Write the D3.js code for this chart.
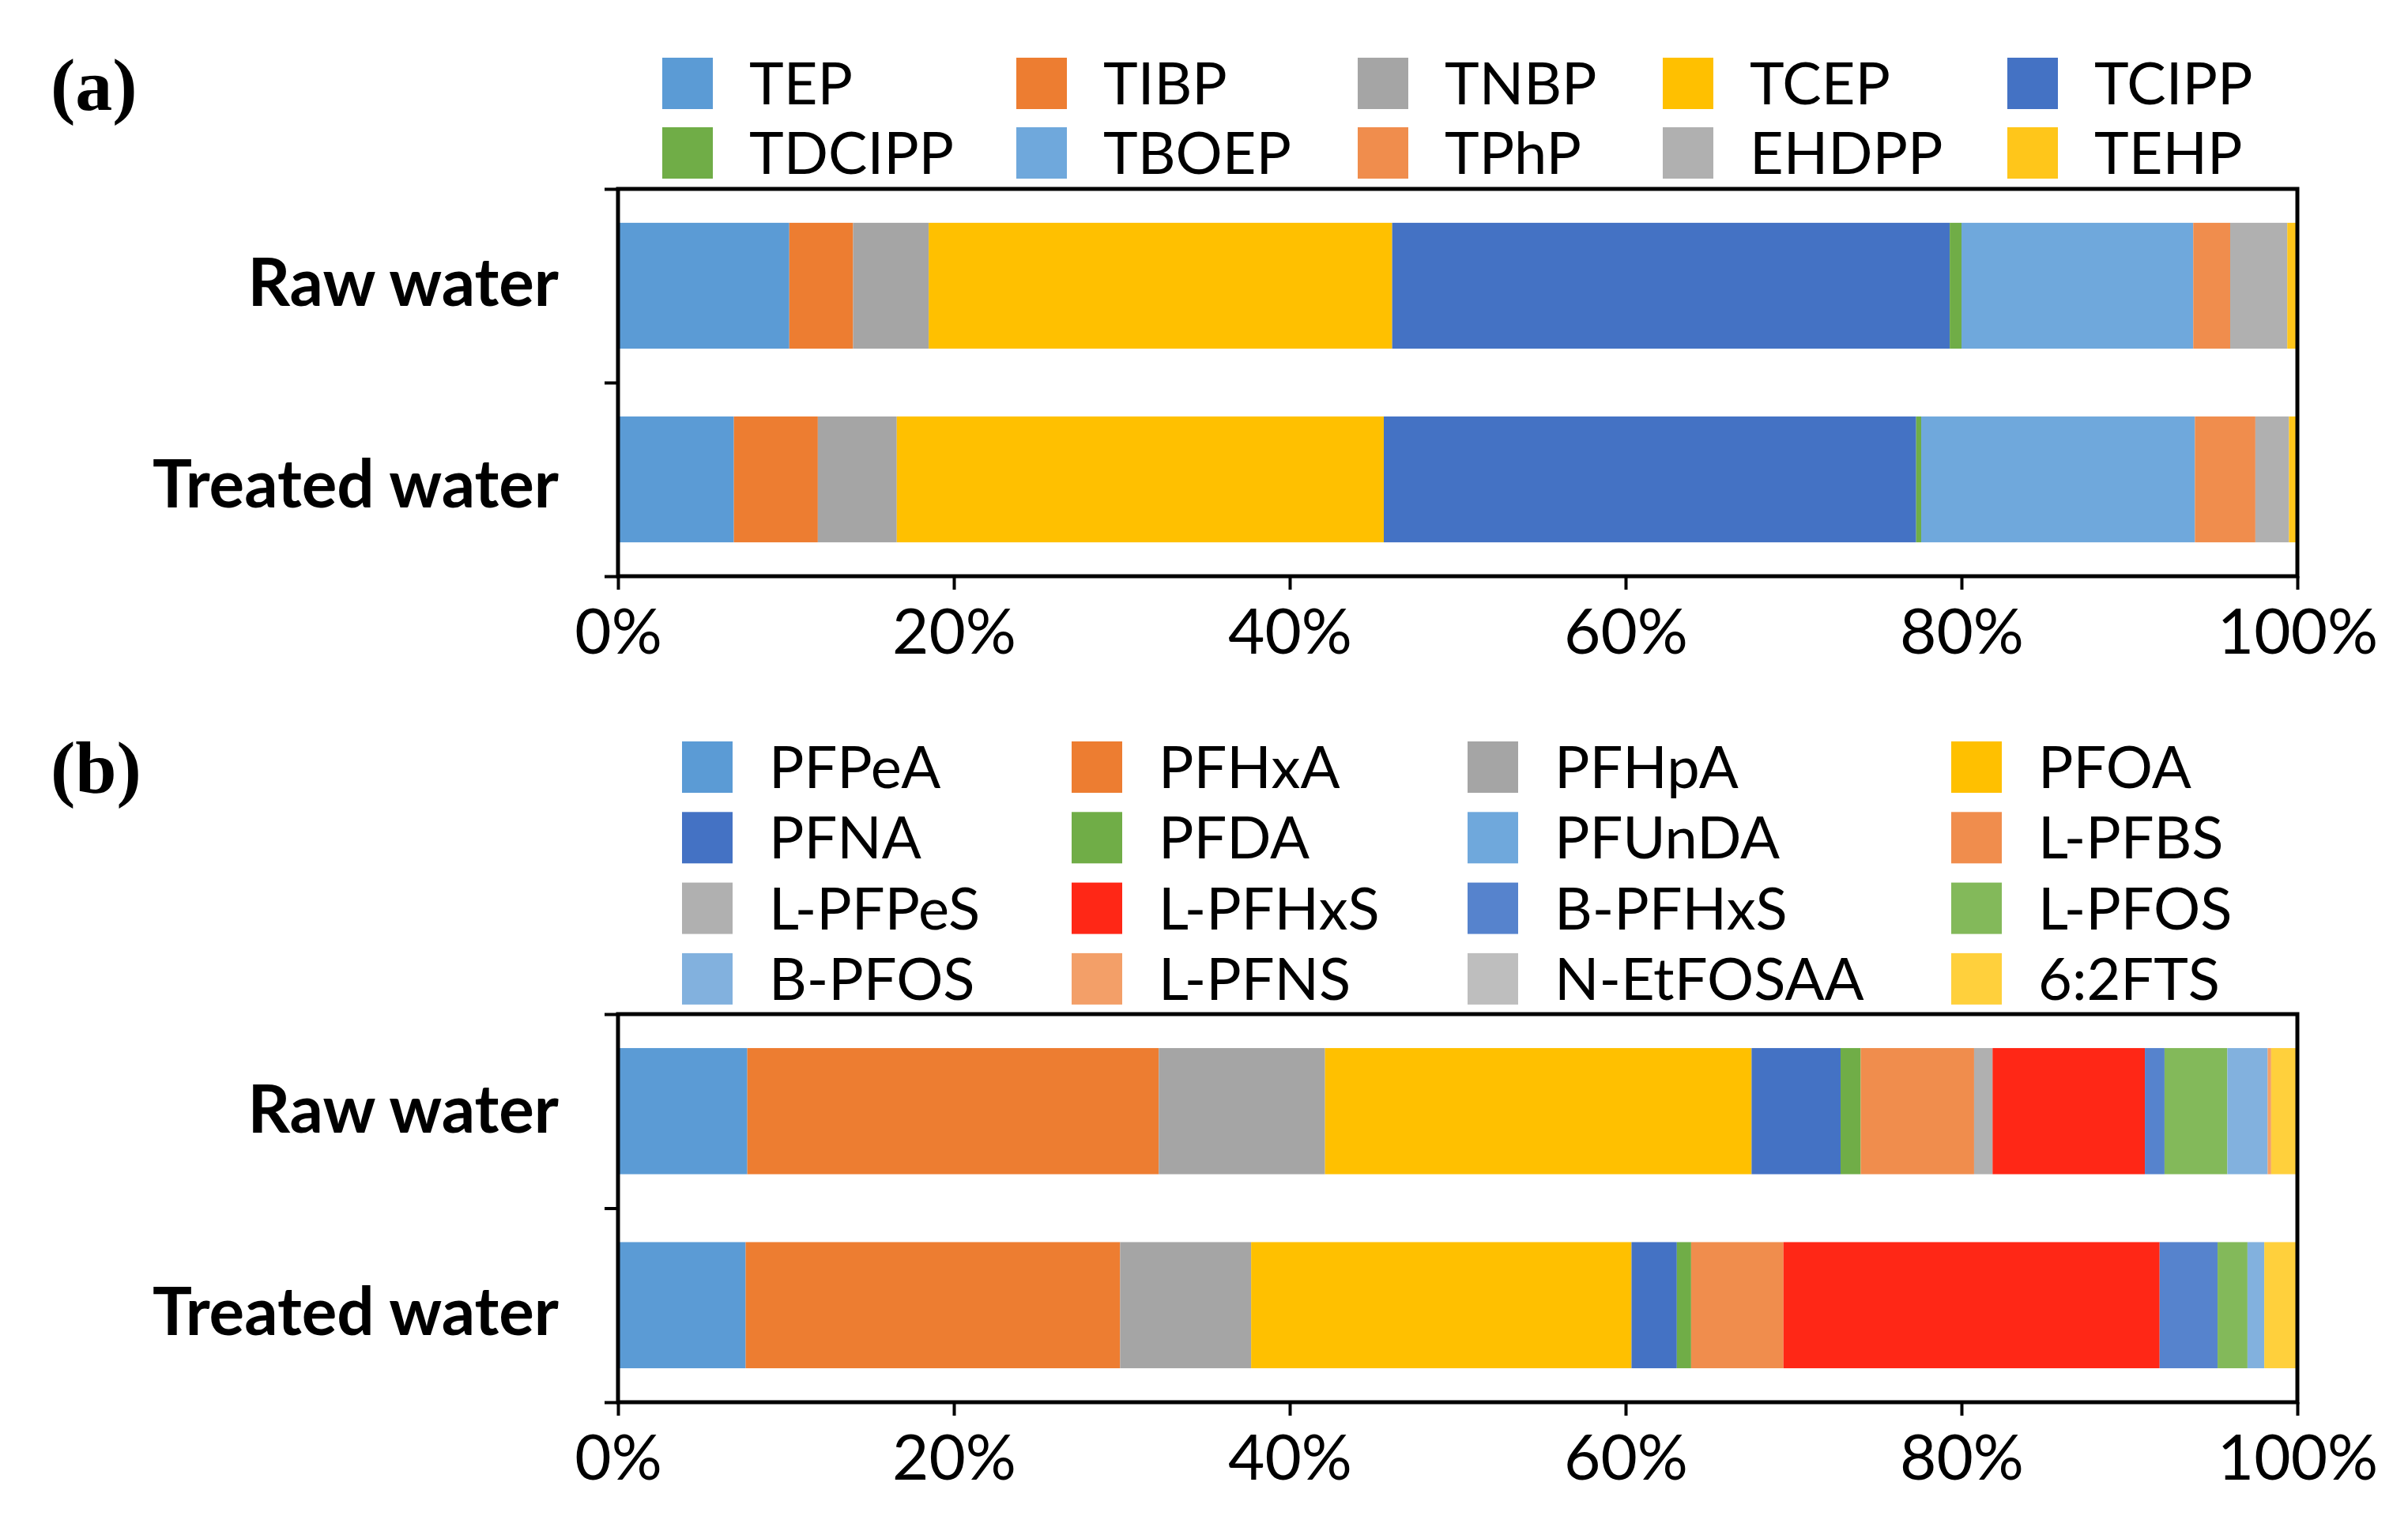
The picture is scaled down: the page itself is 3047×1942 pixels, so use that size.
<!DOCTYPE html>
<html>
<head>
<meta charset="utf-8">
<script src="https://cdn.jsdelivr.net/npm/d3@7"></script>
<style>
  body { margin: 0; background: #fff; }
  svg { display: block; }
  text { font-family: Lato, "Noto Sans", sans-serif; fill: #000; }
</style>
</head>
<body>
<svg id="chart" width="3047" height="1942"></svg>
<script>
// samples on the y axis
var samples = ["Raw water", "Treated water"];

// (a) organophosphate esters, % of total
var opeNames = ["TEP", "TIBP", "TNBP", "TCEP", "TCIPP", "TDCIPP", "TBOEP", "TPhP", "EHDPP", "TEHP"];
var opeRaw     = [10.2, 3.8, 4.5, 27.6, 33.2, 0.7, 13.8, 2.2, 3.4, 0.6];
var opeTreated = [6.9, 5.0, 4.7, 29.0, 31.7, 0.3, 16.3, 3.6, 2.0, 0.5];
var opeColors  = ["#5B9BD5", "#ED7D31", "#A5A5A5", "#FFC000", "#4472C4", "#70AD47", "#6FA8DC", "#F08D4D", "#B0B0B0", "#FFC61A"];

// (b) PFASs, % of total
var pfasNames = ["PFPeA", "PFHxA", "PFHpA", "PFOA", "PFNA", "PFDA", "PFUnDA", "L-PFBS",
                 "L-PFPeS", "L-PFHxS", "B-PFHxS", "L-PFOS", "B-PFOS", "L-PFNS", "N-EtFOSAA", "6:2FTS"];
var pfasRaw     = [7.7, 24.5, 9.9, 25.4, 5.3, 1.2, 0, 6.75, 1.1, 9.07, 1.17, 3.74, 2.4, 0.21, 0, 1.56];
var pfasTreated = [7.6, 22.3, 7.8, 22.65, 2.7, 0.85, 0, 5.5, 0, 22.4, 3.45, 1.78, 1.0, 0, 0, 1.97];
var pfasColors  = ["#5B9BD5", "#ED7D31", "#A5A5A5", "#FFC000", "#4472C4", "#70AD47", "#6FA8DC", "#F08D4D",
                   "#B0B0B0", "#FF2716", "#5683CD", "#83B95A", "#82B1DE", "#F39F68", "#BEBEBE", "#FFD03C"];

var xTicks = [0, 0.2, 0.4, 0.6, 0.8, 1.0];

var svg = d3.select("#chart");
var plotLeft = 782, plotRight = 2907;

var x = d3.scaleLinear().domain([0, 1]).range([plotLeft, plotRight]);

function drawPanel(p) {
    var g = svg.append("g");

    // panel letter
    g.append("text")
        .text(p.letter)
        .attr("x", 64)
        .attr("y", p.letterY)
        .style("font-family", "'Liberation Serif', 'DejaVu Serif', serif")
        .style("font-weight", "bold")
        .style("font-size", "94px");

    // legend, filled row by row
    var leg = g.selectAll("g.leg")
        .data(p.names)
        .enter()
        .append("g")
        .attr("class", "leg")
        .attr("transform", function (d, i) {
            var col = i % p.legCols.length, row = Math.floor(i / p.legCols.length);
            return "translate(" + p.legCols[col] + "," + (p.legTop + row * p.legPitch) + ")";
        });
    leg.append("rect")
        .attr("width", 64)
        .attr("height", 65)
        .attr("fill", function (d, i) { return p.colors[i]; });
    leg.append("text")
        .text(function (d) { return d; })
        .attr("x", 110)
        .attr("y", 59)
        .style("font-size", "74px");

    // stacked bars
    var table = samples.map(function (s, j) {
        var row = { sample: s };
        p.names.forEach(function (n, i) { row[n] = p.values[j][i]; });
        return row;
    });
    var series = d3.stack().keys(p.names).offset(d3.stackOffsetExpand)(table);

    var y = d3.scaleBand().domain(samples).range([p.top, p.bottom]).paddingInner(0.35).paddingOuter(0.175);

    g.append("g")
        .selectAll("g")
        .data(series)
        .enter()
        .append("g")
        .attr("fill", function (d, i) { return p.colors[i]; })
        .selectAll("rect")
        .data(function (d) { return d; })
        .enter()
        .append("rect")
        .attr("x", function (d) { return x(d[0]); })
        .attr("width", function (d) { return Math.max(0, x(d[1]) - x(d[0])); })
        .attr("y", function (d) { return y(d.data.sample); })
        .attr("height", y.bandwidth());

    // frame
    g.append("rect")
        .attr("x", plotLeft)
        .attr("y", p.top)
        .attr("width", plotRight - plotLeft)
        .attr("height", p.bottom - p.top)
        .attr("fill", "none")
        .attr("stroke", "#000")
        .attr("stroke-width", 5);

    // x axis
    var xAxis = g.append("g")
        .attr("transform", "translate(0," + p.bottom + ")")
        .call(d3.axisBottom(x).tickValues(xTicks).tickFormat(d3.format(".0%")).tickSize(17).tickPadding(24));
    xAxis.select(".domain").remove();
    xAxis.selectAll("line").attr("stroke", "#000").attr("stroke-width", 4);
    xAxis.selectAll("text")
        .style("font-family", "Lato, 'Noto Sans', sans-serif")
        .style("font-size", "80px")
        .attr("dy", "0.71em");

    // y ticks at band edges
    var yEdge = d3.scaleLinear().domain([0, samples.length]).range([p.top, p.bottom]);
    var yTickAxis = g.append("g")
        .attr("transform", "translate(" + plotLeft + ",0)")
        .call(d3.axisLeft(yEdge).tickValues(d3.range(samples.length + 1)).tickFormat("").tickSize(17));
    yTickAxis.select(".domain").remove();
    yTickAxis.selectAll("line").attr("stroke", "#000").attr("stroke-width", 4);

    // sample labels
    g.selectAll("text.ylab")
        .data(samples)
        .enter()
        .append("text")
        .attr("class", "ylab")
        .text(function (d) { return d; })
        .attr("x", 707)
        .attr("y", function (d, i) { return y(d) + y.bandwidth() / 2 + p.labelShift[i]; })
        .attr("text-anchor", "end")
        .style("font-weight", "bold")
        .style("font-size", "83.5px");
}

drawPanel({
    letter: "(a)", letterY: 139,
    names: opeNames, values: [opeRaw, opeTreated], colors: opeColors,
    legCols: [838, 1286, 1718, 2104, 2540], legTop: 73, legPitch: 88,
    top: 239, bottom: 729, labelShift: [25, 35]
});

drawPanel({
    letter: "(b)", letterY: 1003,
    names: pfasNames, values: [pfasRaw, pfasTreated], colors: pfasColors,
    legCols: [863, 1356, 1857, 2469], legTop: 938, legPitch: 89.3,
    top: 1283, bottom: 1774, labelShift: [27, 38]
});
</script>
</body>
</html>
